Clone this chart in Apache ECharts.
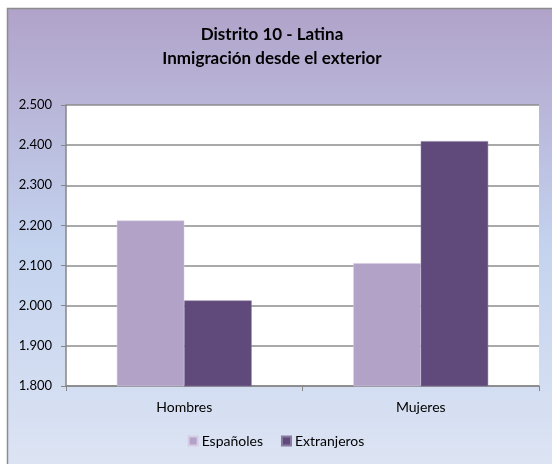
<!DOCTYPE html>
<html><head><meta charset="utf-8">
<script src="https://cdn.jsdelivr.net/npm/echarts@6/dist/echarts.min.js"></script>
<style>html,body{margin:0;padding:0;background:#fff}#c{width:552px;height:464px}</style>
</head><body><div id="c"></div>
<script>
const categories = ['Hombres', 'Mujeres'];
const espanoles = [2212, 2106];
const extranjeros = [2013, 2410];
const seriesNames = ['Españoles', 'Extranjeros'];
const titleLines = ['Distrito 10 - Latina', 'Inmigración desde el exterior'];

const FONT = 'Lato, "Open Sans", sans-serif';
const chart = echarts.init(document.getElementById('c'), null, {renderer: 'canvas'});
const fmt = v => { const s = String(v); return s.length > 3 ? s.slice(0, s.length - 3) + '.' + s.slice(-3) : s; };
chart.setOption({
  animation: false,
  backgroundColor: '#ffffff',
  graphic: [{
    type: 'rect', z: -10, silent: true,
    shape: {x: 7.5, y: 8.5, width: 560, height: 470},
    style: {
      fill: new echarts.graphic.LinearGradient(0, 0, 0, 1, [
        {offset: 0, color: '#B1A2C9'},
        {offset: 0.5, color: '#C3D2EE'},
        {offset: 1, color: '#DEE5F4'}
      ]),
      stroke: '#8C8C8C', lineWidth: 1.5
    }
  }],
  title: {
    text: titleLines.join('\n'),
    left: 267, top: 18, textAlign: 'center',
    textStyle: {fontFamily: FONT, fontWeight: 'bold', fontSize: 17, lineHeight: 24, color: '#000'}
  },
  legend: {
    data: seriesNames, top: 429, left: 'center',
    itemWidth: 9, itemHeight: 9, itemGap: 18, icon: 'rect',
    textStyle: {fontFamily: FONT, fontSize: 14, color: '#000', padding: [0, 0, 0, -1]}
  },
  grid: {left: 66, right: 13, top: 105, bottom: 78, containLabel: false,
         show: true, backgroundColor: '#ffffff', borderWidth: 0},
  xAxis: {
    type: 'category', data: categories,
    axisLine: {lineStyle: {color: '#868686', width: 1.5}},
    axisTick: {show: true, length: 5, lineStyle: {color: '#868686'}},
    axisLabel: {fontFamily: FONT, fontSize: 14, color: '#000', margin: 14}
  },
  yAxis: {
    type: 'value', min: 1800, max: 2500, interval: 100,
    axisLine: {show: true, lineStyle: {color: '#868686', width: 1.5}},
    axisTick: {show: true, length: 5, lineStyle: {color: '#868686'}},
    axisLabel: {fontFamily: FONT, fontSize: 13, color: '#000', margin: 14, formatter: fmt},
    splitLine: {lineStyle: {color: '#8C8C8C', width: 1.5}}
  },
  series: [
    {name: seriesNames[0], type: 'bar', data: espanoles, barGap: '0%', barCategoryGap: '43%',
     itemStyle: {color: '#B3A2C7', borderColor: '#D6CCE3', borderWidth: 0.5}},
    {name: seriesNames[1], type: 'bar', data: extranjeros, barGap: '0%', barCategoryGap: '43%',
     itemStyle: {color: '#604A7B', borderColor: '#8A7AA0', borderWidth: 0.5}}
  ]
});
</script></body></html>
